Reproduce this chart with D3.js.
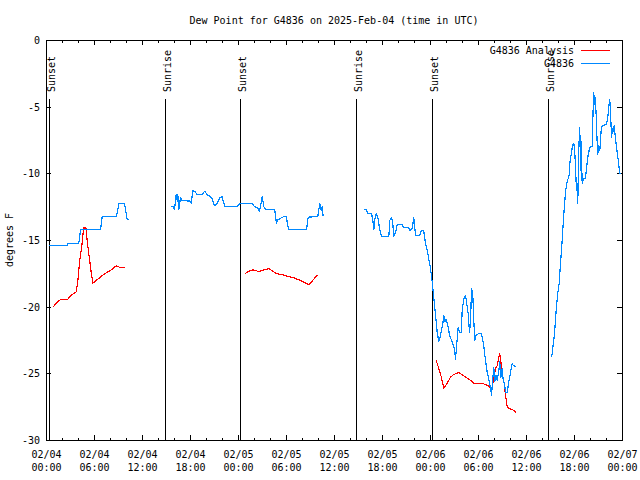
<!DOCTYPE html>
<html><head><meta charset="utf-8">
<script src="https://cdn.jsdelivr.net/npm/d3@7"></script>
<style>
body{margin:0;background:#fff}
svg{display:block;background:#fff}
text{font-family:"DejaVu Sans Mono","Liberation Mono",monospace;font-size:10px;fill:#000}
</style>
</head><body><svg id="c" width="640" height="480"></svg>
<script>
// ---------- data ----------
const chartTitle = "Dew Point for G4836 on 2025-Feb-04 (time in UTC)";
const yLabel = "degrees F";
const seriesNames = ["G4836 Analysis", "G4836"];
const seriesColors = ["#ff0000", "#0088ff"];
const startUTC = Date.UTC(2025, 1, 4, 0, 0);   // 2025-02-04 00:00 UTC
const spanHours = 72;
const yTicks = [0, -5, -10, -15, -20, -25, -30];
const sunLabels = ["Sunset", "Sunrise", "Sunset", "Sunrise", "Sunset", "Sunrise"];
const sunHours = [0.375, 14.875, 24.25, 38.75, 48.19, 62.69];

// observed (G4836) segments: [hours since start, degF]
const obsSeg1 = [[0.29,-15.4],[2.59,-15.4],[2.71,-15.2],[4.04,-15.2],[4.15,-14.7],[4.25,-14.2],[6.75,-14.2],[6.96,-13.2],[8.75,-13.2],[9.04,-12.25],[9.75,-12.25],[10.09,-13.45],[10.29,-13.45]];
const obsSeg2 = [[15.5,-12.45],[15.84,-12.45],[16.0,-12.7],[16.21,-11.55],[16.34,-12.05],[16.41,-11.55],[16.54,-12.7],[16.75,-11.75],[16.96,-12.0],[18.0,-12.05],[18.09,-12.2],[18.29,-11.25],[18.63,-11.38],[18.84,-11.57],[19.46,-11.57],[19.75,-11.3],[20.09,-11.57],[20.5,-11.7],[20.71,-11.87],[21.0,-12.4],[21.34,-12.2],[21.66,-11.8],[21.96,-11.7],[22.09,-12.05],[22.29,-12.45],[23.84,-12.45],[24.13,-12.25],[25.71,-12.25],[26.0,-12.45],[26.41,-12.55],[26.63,-12.8],[26.75,-12.45],[26.96,-11.7],[27.16,-12.45],[27.41,-12.7],[28.54,-12.7],[28.63,-13.25],[28.75,-13.7],[28.91,-13.45],[29.66,-13.2],[30.0,-13.2],[30.09,-13.7],[30.29,-14.2],[32.5,-14.2],[32.71,-13.25],[33.91,-13.2],[34.16,-12.25],[34.34,-12.75],[34.46,-12.45],[34.59,-13.2]];
const obsSeg3 = [[39.66,-12.7],[39.96,-12.7],[40.16,-12.95],[40.63,-12.95],[40.79,-13.5],[40.91,-14.2],[41.04,-13.4],[41.21,-13.0],[41.41,-13.25],[41.63,-14.1],[41.88,-14.7],[42.79,-14.7],[42.91,-13.5],[43.13,-13.25],[43.29,-13.75],[43.41,-14.7],[43.63,-14.4],[43.84,-13.8],[44.46,-13.8],[44.66,-14.05],[45.29,-14.05],[45.41,-14.25],[45.71,-14.1],[45.91,-13.3],[46.13,-14.6],[46.66,-14.6],[46.88,-14.25],[47.16,-14.3],[47.38,-15.25],[47.59,-15.75],[47.79,-16.4],[48.0,-17.1],[48.21,-18.1],[48.41,-19.25],[48.54,-20.1],[48.71,-21.1],[48.84,-21.9],[49.04,-22.6],[49.25,-22.1],[49.54,-21.25],[49.66,-20.6],[49.79,-21.1],[49.96,-20.9],[50.21,-21.5],[50.38,-22.1],[50.71,-22.6],[51.0,-23.1],[51.13,-23.9],[51.25,-23.0],[51.46,-21.5],[51.63,-21.9],[51.84,-21.9],[51.96,-20.25],[52.16,-19.4],[52.38,-19.1],[52.5,-19.6],[52.71,-20.5],[52.88,-21.9],[53.0,-21.1],[53.13,-18.6],[53.29,-19.1],[53.41,-21.0],[53.54,-22.5],[53.71,-22.1],[53.96,-22.0],[54.38,-22.0],[54.66,-22.9],[54.79,-23.6],[55.09,-24.9],[55.29,-25.4],[55.5,-26.1],[55.63,-26.6],[55.71,-25.9],[55.91,-24.5],[56.04,-25.6],[56.21,-25.1],[56.34,-25.5],[56.54,-24.75],[56.66,-24.1],[56.79,-25.25],[56.96,-24.6],[57.09,-25.5],[57.25,-25.75],[57.38,-26.4],[57.59,-26.4],[57.79,-25.6],[58.0,-24.9],[58.21,-24.25],[58.41,-24.4],[58.71,-24.45]];
const obsSeg4 = [[63.13,-23.75],[63.21,-23.5],[63.34,-22.75],[63.5,-22.0],[63.63,-20.9],[63.75,-19.9],[63.91,-18.95],[64.09,-18.2],[64.25,-16.7],[64.38,-15.7],[64.5,-14.55],[64.63,-13.3],[64.75,-12.3],[64.88,-11.4],[65.0,-10.8],[65.16,-10.45],[65.34,-10.1],[65.41,-9.25],[65.59,-8.5],[65.75,-7.9],[65.91,-7.7],[66.04,-8.4],[66.16,-10.0],[66.25,-11.25],[66.34,-10.75],[66.41,-12.25],[66.54,-8.0],[66.66,-6.5],[66.75,-9.75],[66.84,-7.6],[66.96,-10.75],[67.09,-10.4],[67.38,-10.3],[67.5,-9.6],[67.66,-8.75],[67.91,-8.0],[68.21,-7.95],[68.34,-4.9],[68.41,-3.9],[68.5,-4.8],[68.59,-4.25],[68.71,-5.6],[68.84,-7.75],[68.91,-8.55],[69.04,-7.9],[69.16,-8.25],[69.34,-6.7],[69.46,-6.4],[70.0,-6.3],[70.16,-5.75],[70.29,-4.95],[70.41,-4.45],[70.5,-5.4],[70.63,-7.25],[70.75,-6.6],[70.84,-6.85],[70.96,-6.4],[71.13,-7.4],[71.34,-8.4],[71.5,-9.1],[71.63,-9.9],[71.75,-10.05]];

// analysis (G4836 Analysis) segments
const anaSeg1 = [[0.79,-20.0],[1.41,-19.6],[1.84,-19.4],[2.66,-19.4],[3.09,-19.1],[3.71,-18.85],[3.91,-18.1],[4.13,-16.6],[4.41,-15.4],[4.66,-14.0],[4.79,-14.1],[4.91,-14.0],[5.16,-15.4],[5.59,-17.4],[5.79,-18.2],[6.41,-17.9],[7.25,-17.5],[8.09,-17.2],[8.71,-16.9],[9.13,-17.0],[9.84,-17.05]];
const anaSeg2 = [[24.79,-17.5],[25.29,-17.3],[25.84,-17.2],[26.54,-17.33],[26.96,-17.25],[27.79,-17.1],[28.63,-17.45],[29.66,-17.6],[30.91,-17.8],[31.96,-18.05],[32.79,-18.3],[33.21,-18.05],[33.84,-17.6]];
const anaSeg3 = [[48.71,-24.0],[49.04,-24.6],[49.38,-25.3],[49.66,-26.1],[50.09,-25.7],[50.5,-25.25],[50.91,-25.05],[51.54,-24.9],[52.04,-25.1],[52.79,-25.4],[53.54,-25.75],[54.25,-25.75],[54.66,-25.75],[55.21,-25.9],[55.5,-26.1],[55.71,-26.0],[55.91,-25.25],[56.13,-24.6],[56.34,-24.4],[56.54,-23.75],[56.66,-23.5],[56.84,-24.3],[56.96,-25.1],[57.16,-25.5],[57.38,-26.6],[57.59,-27.5],[57.88,-27.6],[58.29,-27.7],[58.71,-27.9]];

// ---------- drawing ----------
const H = 3600e3;
const toDate = h => new Date(startUTC + h * H);
const svg = d3.select("#c");
const x = d3.scaleUtc().domain([toDate(0), toDate(spanHours)]).range([46, 622]);
const y = d3.scaleLinear().domain([-30, 0]).range([440, 40]);

// title
svg.append("text").attr("x", 334).attr("y", 23.5).attr("text-anchor", "middle").text(chartTitle);

// y label
svg.append("text").attr("transform", "translate(13,240) rotate(-90)").attr("text-anchor", "middle").text(yLabel);

// sun lines + labels
sunHours.forEach((h, i) => {
  const px = Math.round(x(toDate(h))) + 0.5;
  svg.append("line").attr("x1", px).attr("x2", px).attr("y1", 99).attr("y2", 440)
    .attr("stroke", "#000").attr("stroke-width", 1).attr("shape-rendering", "crispEdges");
  svg.append("text").attr("transform", `translate(${px + 5.5},92) rotate(-90)`)
    .attr("text-anchor", "start").text(sunLabels[i]);
});

// axes (ticks inward)
function tickAxis(axisFn, scale, vals, size, tx, ty) {
  const a = axisFn(scale).tickValues(vals).tickSize(size).tickSizeOuter(0).tickFormat("");
  const g = svg.append("g").attr("transform", `translate(${tx},${ty})`).call(a);
  g.select(".domain").remove();
  g.selectAll("line").attr("stroke", "#000").attr("shape-rendering", "crispEdges");
  return g;
}
const majorX = d3.range(0, spanHours + 1, 6).map(toDate);
const minorX = d3.range(0, spanHours + 1, 2).filter(h => h % 6 !== 0).map(toDate);
tickAxis(d3.axisBottom, x, majorX, -5, 0, 440);
tickAxis(d3.axisBottom, x, minorX, -2.5, 0, 440);
tickAxis(d3.axisTop, x, majorX, -5, 0, 40);
tickAxis(d3.axisTop, x, minorX, -2.5, 0, 40);
tickAxis(d3.axisLeft, y, yTicks, -5, 46, 0);
tickAxis(d3.axisRight, y, yTicks, -5, 622, 0);

// x labels (two lines)
const fmtDate = d3.utcFormat("%m/%d"), fmtTime = d3.utcFormat("%H:%M");
majorX.forEach(d => {
  const px = x(d) + 0.5;
  svg.append("text").attr("x", px).attr("y", 458).attr("text-anchor", "middle").text(fmtDate(d));
  svg.append("text").attr("x", px).attr("y", 470.5).attr("text-anchor", "middle").text(fmtTime(d));
});
// y labels
yTicks.forEach(v => {
  svg.append("text").attr("x", 40).attr("y", y(v) + 4).attr("text-anchor", "end").text(v);
});

// border
svg.append("rect").attr("x", 46.5).attr("y", 40.5).attr("width", 576).attr("height", 400)
  .attr("fill", "none").attr("stroke", "#000").attr("stroke-width", 1).attr("shape-rendering", "crispEdges");

// series lines
const line = d3.line().x(d => x(toDate(d[0])) + 0.5).y(d => y(d[1]) + 0.5);
function drawSeg(seg, color) {
  svg.append("path").datum(seg).attr("d", line).attr("fill", "none")
    .attr("stroke", color).attr("stroke-width", 1.2).attr("stroke-linejoin", "round")
    .attr("shape-rendering", "crispEdges");
}
[anaSeg1, anaSeg2, anaSeg3].forEach(s => drawSeg(s, seriesColors[0]));
[obsSeg1, obsSeg2, obsSeg3, obsSeg4].forEach(s => drawSeg(s, seriesColors[1]));

// legend
seriesNames.forEach((n, i) => {
  const ly = 50.5 + i * 12.5;
  svg.append("text").attr("x", 574).attr("y", ly + 3.5).attr("text-anchor", "end").text(n);
  svg.append("line").attr("x1", 581).attr("x2", 610).attr("y1", ly).attr("y2", ly)
    .attr("stroke", seriesColors[i]).attr("stroke-width", 1).attr("shape-rendering", "crispEdges");
});
</script>
</body></html>
